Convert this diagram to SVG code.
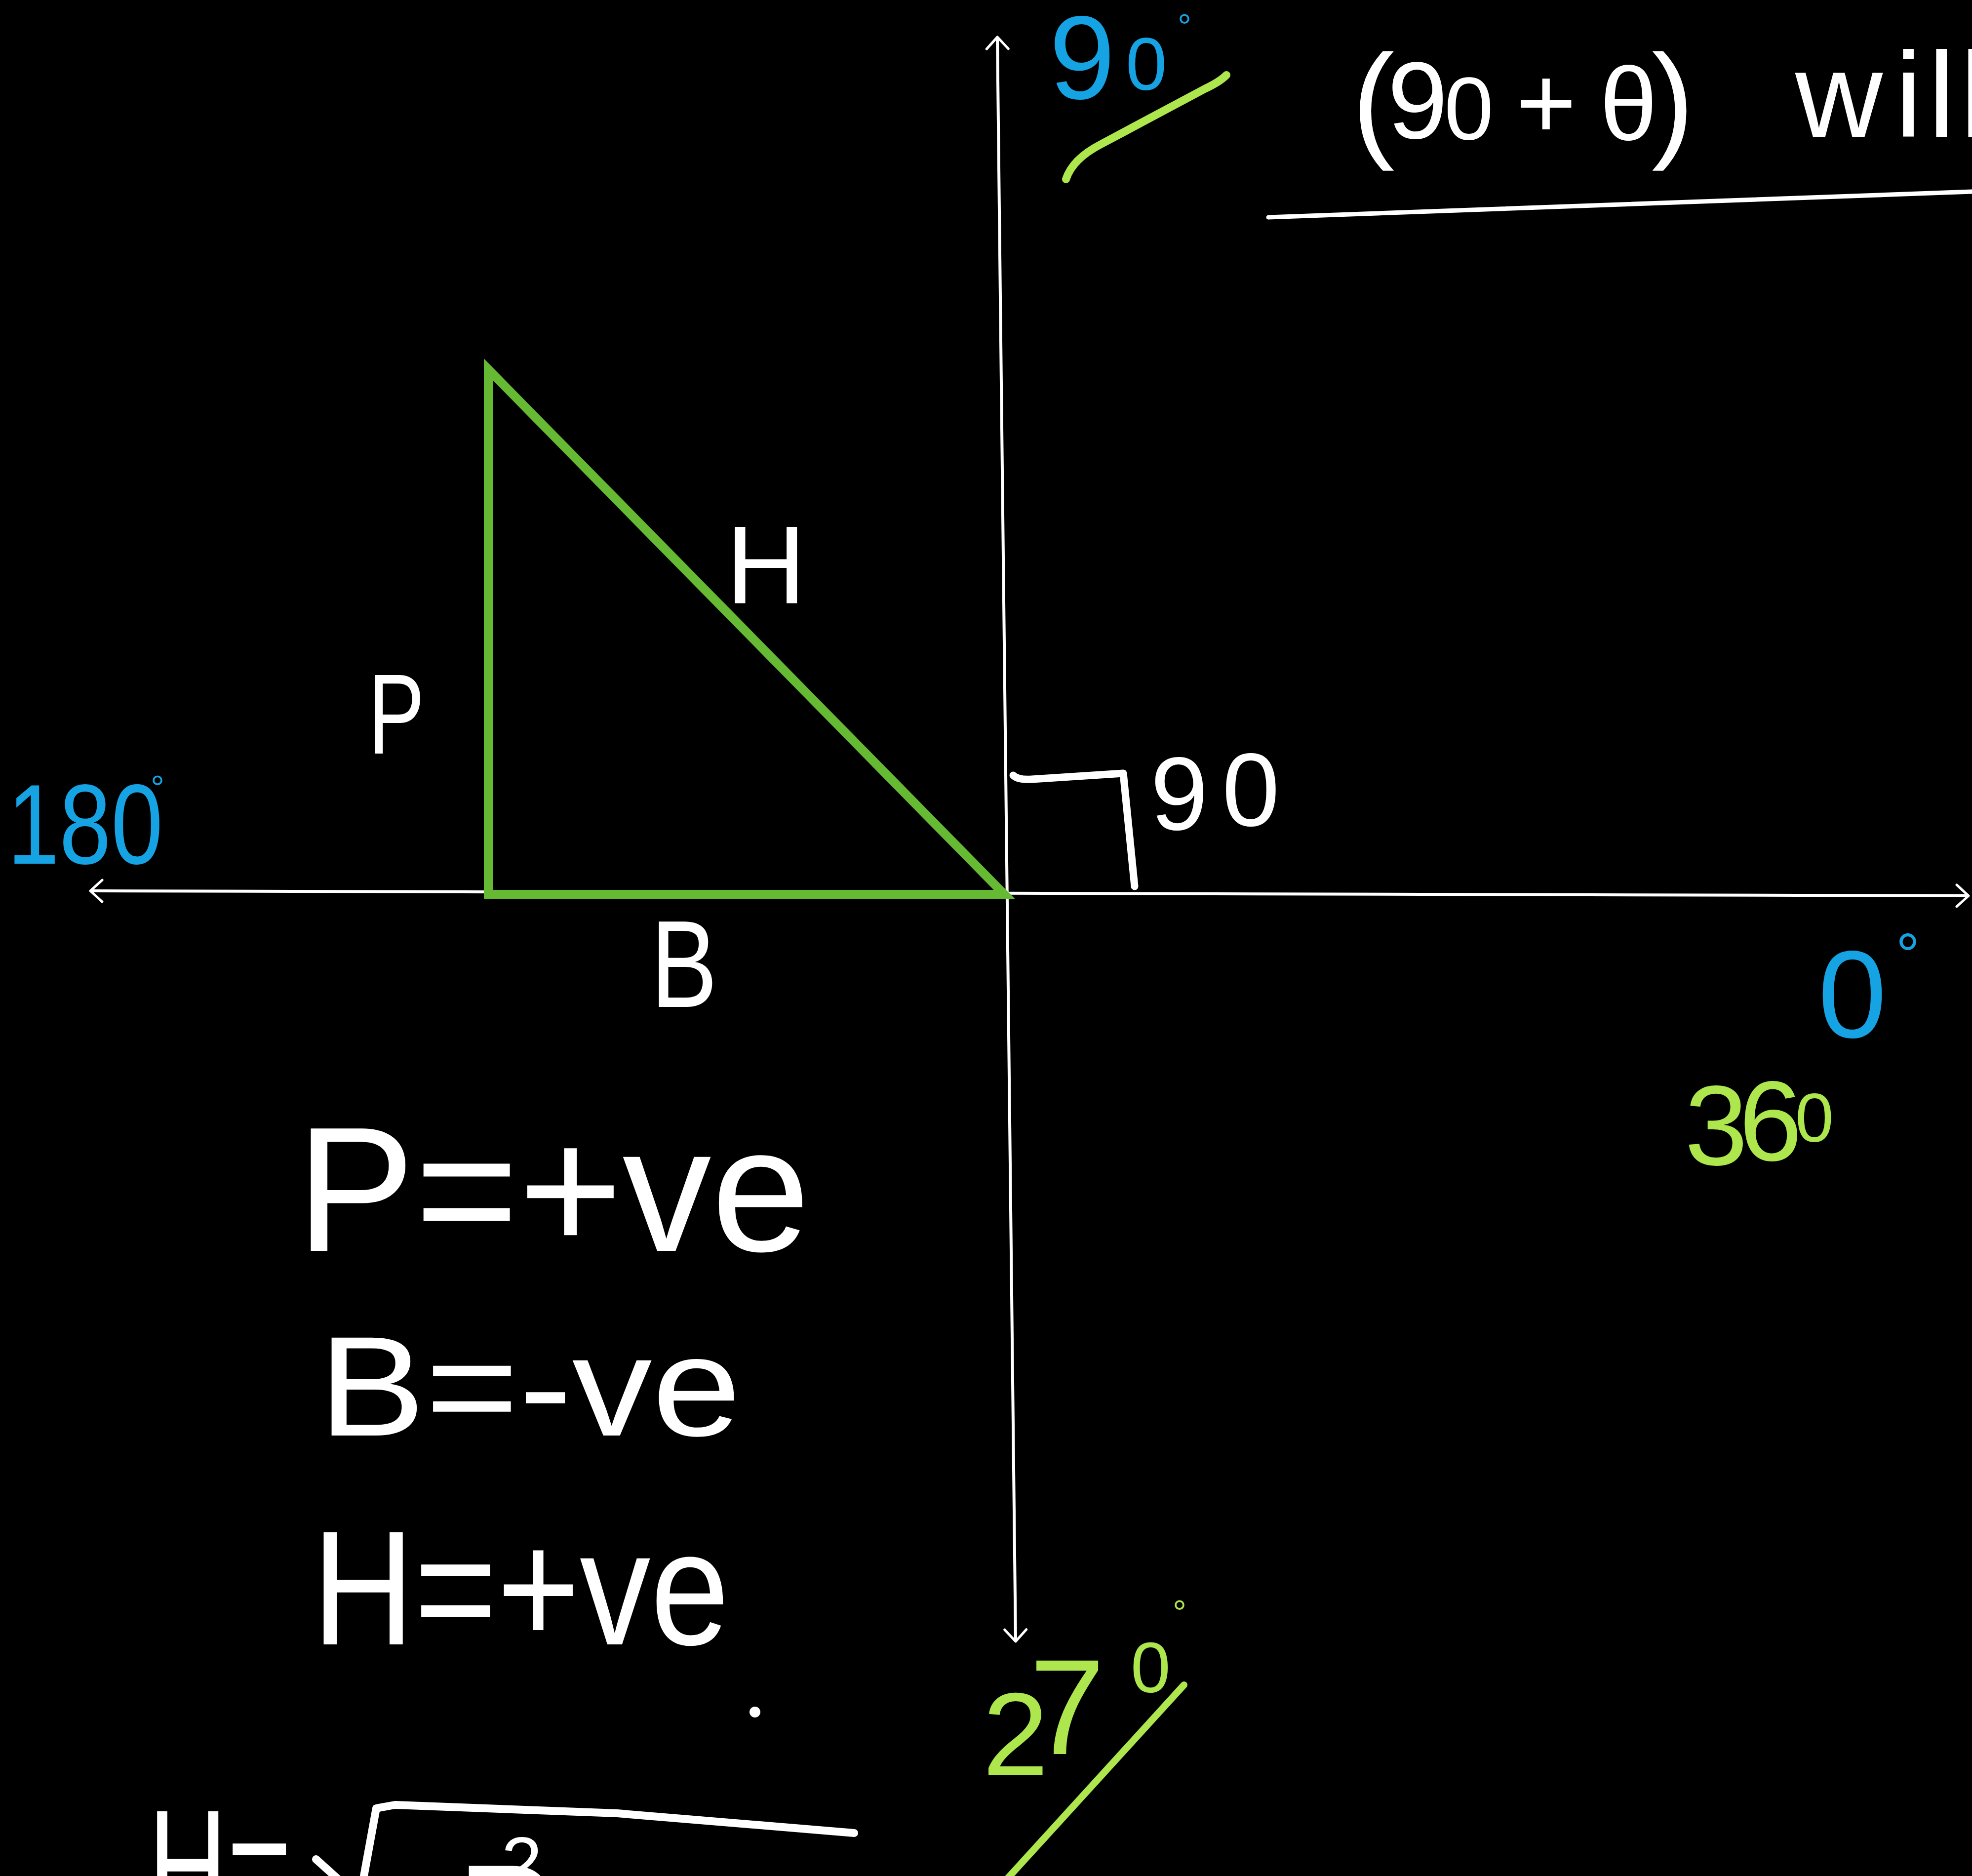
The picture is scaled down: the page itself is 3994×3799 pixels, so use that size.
<svg xmlns="http://www.w3.org/2000/svg" width="3994" height="3799" viewBox="0 0 3994 3799">
<style>
.t{font-family:"Liberation Sans","Noto Sans",sans-serif;}
.w{fill:#ffffff}
.b{fill:#15a3e4}
.g{fill:#aee64e}
.ax{stroke:#ffffff;stroke-width:6;fill:none}
.ink{fill:none;stroke-linecap:round;stroke-linejoin:round}
</style>
<defs>
<marker id="arr" viewBox="0 0 30 50" refX="27" refY="25" markerWidth="30" markerHeight="50" markerUnits="userSpaceOnUse" orient="auto-start-reverse">
<path d="M3,3 L27,25 L3,47" fill="none" stroke="#ffffff" stroke-width="5" stroke-linecap="round" stroke-linejoin="round"/>
</marker>
</defs>
<rect width="3994" height="3799" fill="#000000"/>

<g id="connectors">
<line id="x-axis" x1="183" y1="1804" x2="3987" y2="1814" class="ax" marker-start="url(#arr)" marker-end="url(#arr)"/>
<line id="y-axis" x1="2020" y1="75" x2="2057" y2="3324" class="ax" marker-start="url(#arr)" marker-end="url(#arr)"/>
</g>

<g id="triangle">
<polygon points="989,748 989,1811 2034,1811" fill="none" stroke="#66b933" stroke-width="18" stroke-linejoin="miter"/>
</g>

<g id="right-angle">
<path class="ink" d="M2052,1570 Q2062,1580 2090,1578 L2275,1566 L2298,1795" stroke="#ffffff" stroke-width="15"/>
<text class="t w" font-size="210" x="2330 2475" y="1680 1672">90</text>
</g>

<g id="label-H"><text class="t w" x="1470" y="1222" font-size="225">H</text></g>
<g id="label-P"><text class="t w" x="745" y="1526" font-size="230" textLength="115" lengthAdjust="spacingAndGlyphs">P</text></g>
<g id="label-B"><text class="t w" x="1318" y="2039" font-size="250" textLength="135" lengthAdjust="spacingAndGlyphs">B</text></g>

<g id="angle-90">
<text class="t b" x="2125" y="200" font-size="240">9<tspan x="2280" y="182" font-size="150">0</tspan><tspan x="2385" y="78" font-size="70">°</tspan></text>
<path class="ink" d="M2159,363 Q2172,322 2230,292 L2440,180 Q2470,166 2484,152" stroke="#aee64e" stroke-width="16"/>
</g>

<g id="angle-180">
<text class="t b" x="15" y="1749" font-size="230" textLength="315" lengthAdjust="spacingAndGlyphs">180</text>
<text class="t b" x="305" y="1620" font-size="70">°</text>
</g>

<g id="angle-0">
<text class="t b" x="3682" y="2101" font-size="250">0<tspan x="3840" y="1975" font-size="120">°</tspan></text>
</g>

<g id="angle-360">
<text class="t g" x="3412 3522" y="2359 2350" font-size="230">36<tspan x="3636" y="2312" font-size="140">0</tspan></text>
</g>

<g id="angle-270">
<text class="t g"><tspan x="1990" y="3595" font-size="240">2</tspan><tspan x="2085" y="3552" font-size="275">7</tspan><tspan x="2290" y="3427" font-size="145">0</tspan><tspan x="2375" y="3290" font-size="70">°</tspan></text>
<path class="ink" d="M2398,3412 L2035,3810" stroke="#aee64e" stroke-width="14"/>
</g>

<g id="heading">
<text class="t w" y="280" font-size="210"><tspan x="2738" y="292" font-size="260">(</tspan><tspan x="2810" y="280" font-size="220">9</tspan><tspan x="2925" y="282" font-size="180">0</tspan><tspan x="3070" y="280">+</tspan><tspan x="3240" y="283">θ</tspan><tspan x="3345" y="292" font-size="260">)</tspan><tspan x="3636 3838 3905 3970" y="277" font-size="245">will</tspan></text>
<path class="ink" d="M2569,440 L3994,388" stroke="#ffffff" stroke-width="9"/>
</g>

<g id="sign-P"><text class="t w" x="600" y="2533" font-size="360">P=+ve</text></g>
<g id="sign-B"><text class="t w" x="645" y="2907" font-size="288" textLength="856" lengthAdjust="spacingAndGlyphs">B=-ve</text></g>
<g id="sign-H">
<text class="t w" x="632" y="3330" font-size="330" textLength="845" lengthAdjust="spacingAndGlyphs">H=+ve</text>
<circle cx="1529" cy="3467" r="11" fill="#ffffff"/>
</g>

<g id="formula">
<text class="t w" x="300" y="3895" font-size="330" textLength="290" lengthAdjust="spacingAndGlyphs">H=</text>
<path class="ink" d="M640,3765 L690,3810 M735,3810 L762,3662 L800,3655 L1250,3672 L1730,3712" stroke="#ffffff" stroke-width="16"/>
<text class="t w" x="925" y="3985" font-size="300">P<tspan x="1015" y="3825" font-size="150">2</tspan></text>
</g>
</svg>
